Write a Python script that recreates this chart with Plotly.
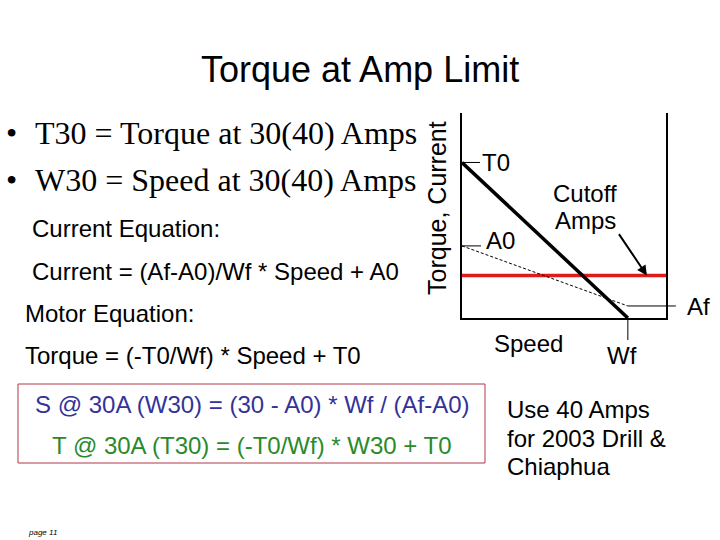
import plotly.graph_objects as go

# ---- data (schematic motor diagram) ----
speed = [0.0, 1.0]            # 0 .. Wf
torque = [110.0, 0.0]         # T0 .. 0
current = [51.0, 8.5]         # A0 .. Af
cutoff_amps = 30.0
x_range = [0.0, 1.23]
y_range = [0.0, 145.0]

W, H = 720, 540
XD = [462 / W, 666 / W]
YD = [1 - 318 / H, 1 - 113 / H]

SANS = "Arial, Liberation Sans, sans-serif"
SERIF = "Times New Roman, Liberation Serif, serif"


def px(x, y):
    return x / W, 1 - y / H


def d2p(x, y):
    """data -> paper"""
    xp = XD[0] + (x - x_range[0]) / (x_range[1] - x_range[0]) * (XD[1] - XD[0])
    yp = YD[0] + (y - y_range[0]) / (y_range[1] - y_range[0]) * (YD[1] - YD[0])
    return xp, yp


fig = go.Figure()
fig.add_trace(go.Scatter(x=[x_range[0], x_range[1]], y=[cutoff_amps, cutoff_amps], mode="lines",
                         line=dict(color="#E01B1B", width=3.5), hoverinfo="skip"))
fig.add_trace(go.Scatter(x=speed, y=current, mode="lines",
                         line=dict(color="black", width=1, dash="3px,2px"), hoverinfo="skip"))
fig.add_trace(go.Scatter(x=speed, y=torque, mode="lines",
                         line=dict(color="black", width=3.5), hoverinfo="skip"))

shapes = []
# leader lines
t0 = d2p(0, torque[0])
shapes.append(dict(type="line", xref="paper", yref="paper", x0=t0[0], y0=t0[1], x1=t0[0] + 18 / W, y1=t0[1],
                   line=dict(color="black", width=1)))
a0 = d2p(0, current[0])
shapes.append(dict(type="line", xref="paper", yref="paper", x0=a0[0], y0=a0[1], x1=a0[0] + 19 / W, y1=a0[1],
                   line=dict(color="black", width=1)))
af = d2p(speed[1], current[1])
shapes.append(dict(type="line", xref="paper", yref="paper", x0=af[0], y0=af[1], x1=af[0] + 48 / W, y1=af[1],
                   line=dict(color="black", width=1)))
wf = d2p(speed[1], 0)
shapes.append(dict(type="line", xref="paper", yref="paper", x0=wf[0], y0=wf[1], x1=wf[0], y1=wf[1] - 22 / H,
                   line=dict(color="black", width=1)))
# red-bordered box
b0 = px(18, 384)
b1 = px(485, 463)
shapes.append(dict(type="rect", xref="paper", yref="paper", x0=b0[0], y0=b1[1], x1=b1[0], y1=b0[1],
                   line=dict(color="#B03A48", width=1)))

ann = []


def text(t, x, y, size, family=SANS, color="black", xanchor="left", textangle=0, italic=False):
    p = px(x, y)
    ann.append(dict(text=t, x=p[0], y=p[1], xref="paper", yref="paper", showarrow=False,
                    xanchor=xanchor, yanchor="middle", textangle=textangle,
                    font=dict(family=family, size=size, color=color,
                              style="italic" if italic else "normal")))


text("Torque at Amp Limit", 360, 69, 36, xanchor="center")
text("•", 4, 133, 32, family=SERIF)
text("T30 = Torque at 30(40) Amps", 33, 133, 32, family=SERIF)
text("•", 4, 180, 32, family=SERIF)
text("W30 = Speed at 30(40) Amps", 33, 180, 32, family=SERIF)
text("Current Equation:", 30, 228, 24)
text("Current = (Af-A0)/Wf * Speed + A0", 30, 271, 24)
text("Motor Equation:", 23, 313, 24)
text("Torque = (-T0/Wf) * Speed + T0", 23, 355, 24)
text("S @ 30A (W30) = (30 - A0) * Wf / (Af-A0)", 252, 404, 24, color="#333399", xanchor="center")
text("T @ 30A (T30) = (-T0/Wf) * W30 + T0", 252, 445, 24, color="#2A8A2A", xanchor="center")
text("Use 40 Amps", 505, 409, 24)
text("for 2003 Drill &", 505, 438, 24)
text("Chiaphua", 505, 466, 24)
text("page 11", 26, 532, 8, italic=True)
text("Torque, Current", 437, 208, 25, xanchor="center", textangle=-90)
text("T0", 480, 162, 24)
text("A0", 484, 240, 24)
text("Cutoff", 585, 193, 24, xanchor="center")
text("Amps", 585, 221, 24, xanchor="center")
text("Af", 685, 306, 24)
text("Speed", 528, 343, 24, xanchor="center")
text("Wf", 622, 355, 24, xanchor="center")

# cutoff arrow
ann.append(dict(x=1.115, y=cutoff_amps, xref="x", yref="y", ax=-29, ay=-43, axref="pixel", ayref="pixel",
                showarrow=True, arrowhead=2, arrowsize=1, arrowwidth=2, arrowcolor="black", text=""))

fig.update_layout(
    width=W, height=H, margin=dict(l=0, r=0, t=0, b=0),
    paper_bgcolor="white", plot_bgcolor="white", showlegend=False,
    xaxis=dict(domain=XD, range=x_range, showgrid=False, zeroline=False, showticklabels=False,
               ticks="", showline=True, linecolor="black", linewidth=1.5, fixedrange=True),
    yaxis=dict(domain=YD, range=y_range, showgrid=False, zeroline=False, showticklabels=False,
               ticks="", showline=True, linecolor="black", linewidth=1.5, mirror=True, fixedrange=True),
    shapes=shapes, annotations=ann,
)

fig.write_html("out.html", config={"displayModeBar": False},
               post_script="document.body.style.margin='0';document.body.style.padding='0';")
